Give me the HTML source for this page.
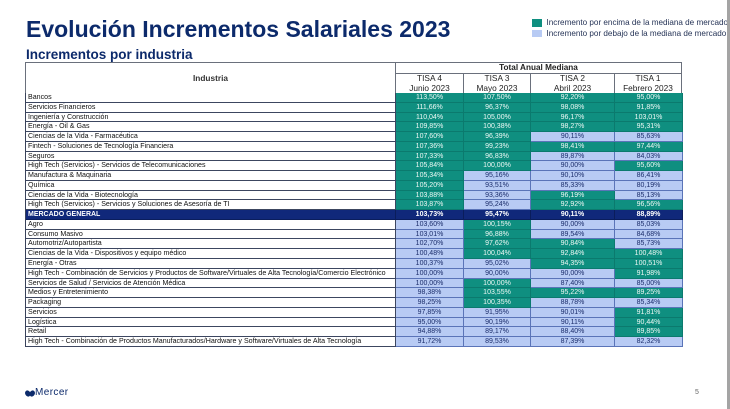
<!DOCTYPE html>
<html><head><meta charset="utf-8"><style>
*{margin:0;padding:0;box-sizing:border-box}
body{width:730px;height:409px;background:#fff;position:relative;overflow:hidden;font-family:"Liberation Sans",Arial,sans-serif}
.t1{position:absolute;left:26px;top:17.5px;font-size:23px;line-height:23px;font-weight:bold;color:#0c2a6b;white-space:nowrap}
.t2{position:absolute;left:26px;top:47.6px;font-size:13.5px;line-height:13.5px;font-weight:bold;color:#0c2a6b;white-space:nowrap}
.lg{position:absolute;left:531.5px;width:10px;height:7.4px}
.lt{position:absolute;left:546.5px;font-size:8.15px;line-height:8px;color:#263457;white-space:nowrap}
.bar{position:absolute;left:727px;top:0;width:3px;height:409px;background:#a4a4a4}
.hd{position:absolute;border:1px solid #6a707c;color:#222;text-align:center;white-space:nowrap}
.grid{position:absolute;left:25px;top:93px;width:657px;display:grid;grid-template-columns:370px 68px 67px 84px 68px;grid-auto-rows:9.77px;border-left:1px solid #39425a}
.grid div{font-size:7px;line-height:9.4px;white-space:nowrap;overflow:hidden;border-bottom:1px solid #3c4660;border-right:1px solid #3c4660;text-align:center}
.grid .n{text-align:left;padding-left:2px;color:#111;background:#fff;font-size:7.1px}
.grid .g{background:#0f8f80;color:#eef8f4;border-color:#0b7a6e}
.grid .b{background:#b8cbf4;color:#1b2d6b;border-color:#5a74b8}
.grid .m{background:#10287a;color:#fff;font-weight:bold;border-color:#0a1d5c}
.grid .mn{background:#10287a;color:#fff;font-weight:bold;text-align:left;padding-left:2px;border-color:#0a1d5c}
</style></head><body>
<div class="t1">Evolución Incrementos Salariales 2023</div>
<div class="t2">Incrementos por industria</div>
<div class="lg" style="top:19.3px;background:#0f8f80"></div>
<div class="lt" style="top:19.2px">Incremento por encima de la mediana de mercado</div>
<div class="lg" style="top:29.8px;background:#b8cbf4"></div>
<div class="lt" style="top:29.7px">Incremento por debajo de la mediana de mercado</div>
<div class="bar"></div>

<div class="hd" style="left:25px;top:62px;width:371px;height:32px;font-size:8.3px;font-weight:bold;line-height:31px;color:#333">Industria</div>
<div class="hd" style="left:395px;top:62px;width:287px;height:11.5px;font-size:8.2px;font-weight:bold;line-height:9.5px;color:#222">Total Anual Mediana</div>
<div class="hd" style="left:395px;top:72.5px;width:69px;height:21.5px;font-size:8.3px;line-height:9.5px;padding-top:0.5px">TISA 4<br>Junio 2023</div>
<div class="hd" style="left:463px;top:72.5px;width:68px;height:21.5px;font-size:8.3px;line-height:9.5px;padding-top:0.5px">TISA 3<br>Mayo 2023</div>
<div class="hd" style="left:530px;top:72.5px;width:85px;height:21.5px;font-size:8.3px;line-height:9.5px;padding-top:0.5px">TISA 2<br>Abril 2023</div>
<div class="hd" style="left:614px;top:72.5px;width:68px;height:21.5px;font-size:8.3px;line-height:9.5px;padding-top:0.5px">TISA 1<br>Febrero 2023</div>

<div class="grid">
<div class="n">Bancos</div><div class="g">113,50%</div><div class="g">107,50%</div><div class="g">92,20%</div><div class="g">95,00%</div>
<div class="n">Servicios Financieros</div><div class="g">111,66%</div><div class="g">96,37%</div><div class="g">98,08%</div><div class="g">91,85%</div>
<div class="n">Ingeniería y Construcción</div><div class="g">110,04%</div><div class="g">105,00%</div><div class="g">96,17%</div><div class="g">103,01%</div>
<div class="n">Energía - Oil &amp; Gas</div><div class="g">109,85%</div><div class="g">100,38%</div><div class="g">98,27%</div><div class="g">95,31%</div>
<div class="n">Ciencias de la Vida - Farmacéutica</div><div class="g">107,60%</div><div class="g">96,39%</div><div class="b">90,11%</div><div class="b">85,63%</div>
<div class="n">Fintech - Soluciones de Tecnología Financiera</div><div class="g">107,36%</div><div class="g">99,23%</div><div class="g">98,41%</div><div class="g">97,44%</div>
<div class="n">Seguros</div><div class="g">107,33%</div><div class="g">96,83%</div><div class="b">89,87%</div><div class="b">84,03%</div>
<div class="n">High Tech (Servicios) - Servicios de Telecomunicaciones</div><div class="g">105,84%</div><div class="g">100,00%</div><div class="b">90,00%</div><div class="g">95,60%</div>
<div class="n">Manufactura &amp; Maquinaria</div><div class="g">105,34%</div><div class="b">95,16%</div><div class="b">90,10%</div><div class="b">86,41%</div>
<div class="n">Química</div><div class="g">105,20%</div><div class="b">93,51%</div><div class="b">85,33%</div><div class="b">80,19%</div>
<div class="n">Ciencias de la Vida - Biotecnología</div><div class="g">103,88%</div><div class="b">93,36%</div><div class="g">96,19%</div><div class="b">85,13%</div>
<div class="n">High Tech (Servicios) - Servicios y Soluciones de Asesoría de TI</div><div class="g">103,87%</div><div class="b">95,24%</div><div class="g">92,92%</div><div class="g">96,56%</div>
<div class="mn">MERCADO GENERAL</div><div class="m">103,73%</div><div class="m">95,47%</div><div class="m">90,11%</div><div class="m">88,89%</div>
<div class="n">Agro</div><div class="b">103,60%</div><div class="g">100,15%</div><div class="b">90,00%</div><div class="b">85,03%</div>
<div class="n">Consumo Masivo</div><div class="b">103,01%</div><div class="g">96,88%</div><div class="b">89,54%</div><div class="b">84,68%</div>
<div class="n">Automotriz/Autopartista</div><div class="b">102,70%</div><div class="g">97,62%</div><div class="g">90,84%</div><div class="b">85,73%</div>
<div class="n">Ciencias de la Vida - Dispositivos y equipo médico</div><div class="b">100,48%</div><div class="g">100,04%</div><div class="g">92,84%</div><div class="g">100,48%</div>
<div class="n">Energía - Otras</div><div class="b">100,37%</div><div class="b">95,02%</div><div class="g">94,35%</div><div class="g">100,51%</div>
<div class="n">High Tech - Combinación de Servicios y Productos de Software/Virtuales de Alta Tecnología/Comercio Electrónico</div><div class="b">100,00%</div><div class="b">90,00%</div><div class="b">90,00%</div><div class="g">91,98%</div>
<div class="n">Servicios de Salud / Servicios de Atención Médica</div><div class="b">100,00%</div><div class="g">100,00%</div><div class="b">87,40%</div><div class="b">85,00%</div>
<div class="n">Medios y Entretenimiento</div><div class="b">98,38%</div><div class="g">103,55%</div><div class="g">95,22%</div><div class="g">89,25%</div>
<div class="n">Packaging</div><div class="b">98,25%</div><div class="g">100,35%</div><div class="b">88,78%</div><div class="b">85,34%</div>
<div class="n">Servicios</div><div class="b">97,85%</div><div class="b">91,95%</div><div class="b">90,01%</div><div class="g">91,81%</div>
<div class="n">Logística</div><div class="b">95,00%</div><div class="b">90,19%</div><div class="b">90,11%</div><div class="g">90,44%</div>
<div class="n">Retail</div><div class="b">94,88%</div><div class="b">89,17%</div><div class="b">88,40%</div><div class="g">89,85%</div>
<div class="n">High Tech - Combinación de Productos Manufacturados/Hardware y Software/Virtuales de Alta Tecnología</div><div class="b">91,72%</div><div class="b">89,53%</div><div class="b">87,39%</div><div class="b">82,32%</div>
</div>

<svg style="position:absolute;left:25px;top:390px" width="10" height="7" viewBox="0 0 10 7">
<ellipse cx="2.8" cy="3.5" rx="2.6" ry="3.2" fill="#0c2a6b" transform="rotate(-30 2.8 3.5)"/>
<ellipse cx="7.2" cy="3.5" rx="2.6" ry="3.2" fill="#0c2a6b" transform="rotate(30 7.2 3.5)"/>
</svg>
<div style="position:absolute;left:35px;top:387.5px;font-size:10px;line-height:10px;color:#0c2a6b;letter-spacing:0.4px">Mercer</div>
<div style="position:absolute;left:695px;top:389px;font-size:7px;line-height:8px;color:#666">5</div>
</body></html>
